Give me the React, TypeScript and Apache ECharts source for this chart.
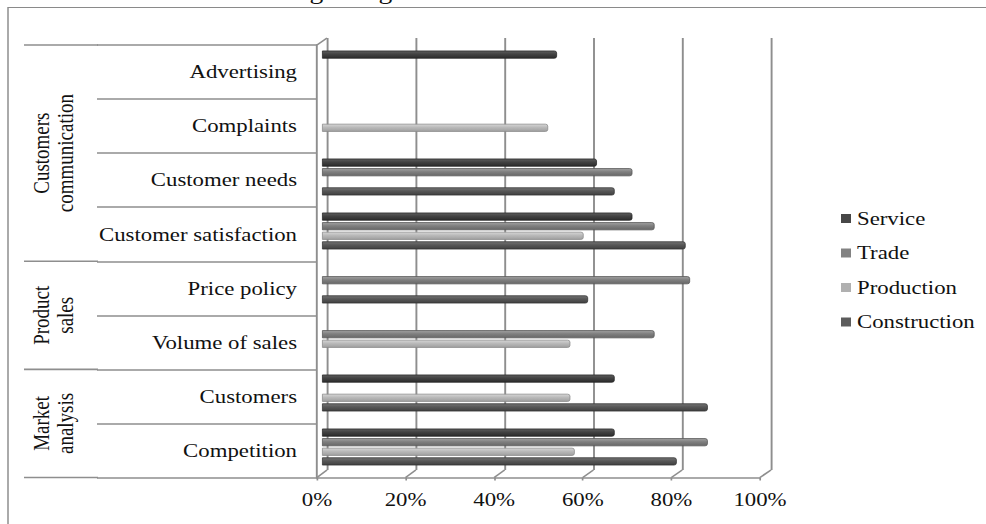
import React, { useEffect, useRef } from "react";
import * as echarts from "echarts";

// ---- data ----
const categories = [
  "Advertising",
  "Complaints",
  "Customer needs",
  "Customer satisfaction",
  "Price policy",
  "Volume of sales",
  "Customers",
  "Competition",
];
const groupLabels = ["Customers\ncommunication", "Product\nsales", "Market\nanalysis"];
const groupSizes = [4, 2, 2];
const seriesNames = ["Service", "Trade", "Production", "Construction"];
const service = [53, null, 62, 70, null, null, 66, 66];
const trade = [null, null, 70, 75, 83, 75, null, 87];
const production = [null, 51, null, 59, null, 56, 56, 57];
const construction = [null, null, 66, 82, 60, null, 87, 80];
const percentTicks = [0, 20, 40, 60, 80, 100];
const headingText = "cases where the trend is stagnating.";

// ---- look ----
const W = 986;
const H = 524;
const SX = 1.2; // horizontal stretch of the whole figure
const ix = (x: number) => x / SX;
const FONT = '"Liberation Serif", "Times New Roman", serif';
const LINE = "#8e8e8e";

const BAR = { left: 322, right: 765.5, top: 42, bottom: 474 };
const WALL = { left: 327, right: 771, top: 38, bottom: 470 };
const FRONT = { left: 317, right: 760, top: 45, bottom: 477.5 };

const shades = [
  ["#5e5e5e", "#424242", "#2c2c2c", "#262626"],
  ["#a2a2a2", "#7f7f7f", "#686868", "#555555"],
  ["#d6d6d6", "#b9b9b9", "#9f9f9f", "#8a8a8a"],
  ["#747474", "#575757", "#404040", "#333333"],
];
const legendColors = ["#474747", "#828282", "#b0b0b0", "#5c5c5c"];

const gridOf = (b: { left: number; right: number; top: number; bottom: number }) => ({
  left: ix(b.left),
  width: ix(b.right - b.left),
  top: b.top,
  height: b.bottom - b.top,
});

export default function App() {
  const ref = useRef<HTMLDivElement>(null);

  useEffect(() => {
    document.body.style.margin = "0";
    const chart = echarts.init(ref.current!, null, { renderer: "svg" });
    const values = [service, trade, production, construction];

    chart.setOption({
      animation: false,
      backgroundColor: "#ffffff",
      textStyle: { fontFamily: FONT },
      grid: [gridOf(BAR), gridOf(WALL), gridOf(FRONT)],
      legend: {
        orient: "vertical",
        left: ix(841),
        top: 209,
        padding: 0,
        itemWidth: ix(10),
        itemHeight: 9,
        itemGap: 15.5,
        icon: "rect",
        textStyle: { fontSize: 19, color: "#111", fontFamily: FONT },
        data: seriesNames.map((n, i) => ({
          name: n,
          itemStyle: { color: legendColors[i], borderWidth: 0 },
        })),
      },
      xAxis: [
        { gridIndex: 0, type: "value", min: 0, max: 100, show: false },
        {
          gridIndex: 1,
          type: "value",
          min: 0,
          max: 100,
          interval: 20,
          axisLine: { show: false },
          axisTick: { show: false },
          axisLabel: { show: false },
          splitLine: { show: true, lineStyle: { color: LINE, width: 1.6 } },
        },
        {
          gridIndex: 2,
          type: "value",
          min: 0,
          max: 100,
          interval: 20,
          axisLine: { show: true, lineStyle: { color: LINE, width: 1.6 } },
          axisTick: { show: true, length: 3, lineStyle: { color: LINE, width: 1.4 } },
          axisLabel: { formatter: "{value}%", fontSize: 19, color: "#111", margin: 13, fontFamily: FONT },
          splitLine: { show: false },
        },
      ],
      yAxis: [
        { gridIndex: 0, type: "category", inverse: true, data: categories, show: false },
        { gridIndex: 1, type: "category", inverse: true, data: categories, show: false },
        {
          gridIndex: 2,
          type: "category",
          inverse: true,
          data: categories,
          axisLine: { show: true, lineStyle: { color: LINE, width: 1.6 } },
          axisTick: { show: true, length: ix(220), interval: 0, lineStyle: { color: LINE, width: 1.6 } },
          axisLabel: { interval: 0, fontSize: 19, color: "#111", margin: ix(20), fontFamily: FONT },
        },
      ],
      series: seriesNames.map((name, i) => ({
        name,
        type: "bar",
        xAxisIndex: 0,
        yAxisIndex: 0,
        barWidth: 8,
        barGap: "20%",
        data: values[i],
        itemStyle: {
          color: new echarts.graphic.LinearGradient(0, 0, 0, 1, [
            { offset: 0, color: shades[i][0] },
            { offset: 0.45, color: shades[i][1] },
            { offset: 1, color: shades[i][2] },
          ]),
          borderColor: shades[i][3],
          borderWidth: 0.7,
          borderRadius: [0, 2, 2, 0],
        },
      })),
    });

    // floor edges, side-wall corner, category groups and frame
    const elements: any[] = [];
    const stroke = { stroke: LINE, lineWidth: 1.6 };
    percentTicks.forEach((v) => {
      const fx = chart.convertToPixel({ xAxisIndex: 2 }, v) as number;
      const bx = chart.convertToPixel({ xAxisIndex: 1 }, v) as number;
      elements.push({ type: "line", shape: { x1: fx, y1: FRONT.bottom, x2: bx, y2: WALL.bottom }, style: stroke });
    });
    {
      const fx = chart.convertToPixel({ xAxisIndex: 2 }, 0) as number;
      const bx = chart.convertToPixel({ xAxisIndex: 1 }, 0) as number;
      elements.push({ type: "line", shape: { x1: fx, y1: FRONT.top, x2: bx, y2: WALL.top }, style: stroke });
    }

    const c0 = chart.convertToPixel({ yAxisIndex: 2 }, categories[0]) as number;
    const c1 = chart.convertToPixel({ yAxisIndex: 2 }, categories[1]) as number;
    const band = c1 - c0;
    let start = 0;
    groupSizes.forEach((n, gi) => {
      const yTop = (chart.convertToPixel({ yAxisIndex: 2 }, categories[start]) as number) - band / 2;
      const yBot = (chart.convertToPixel({ yAxisIndex: 2 }, categories[start + n - 1]) as number) + band / 2;
      if (gi === 0) {
        elements.push({ type: "line", shape: { x1: ix(24), y1: yTop, x2: ix(98), y2: yTop }, style: stroke });
      }
      elements.push({ type: "line", shape: { x1: ix(24), y1: yBot, x2: ix(98), y2: yBot }, style: stroke });
      elements.push({
        type: "text",
        x: ix(53),
        y: (yTop + yBot) / 2,
        rotation: Math.PI / 2,
        style: {
          text: groupLabels[gi],
          fontSize: 19,
          lineHeight: 20,
          fontFamily: FONT,
          fill: "#111",
          align: "center",
          verticalAlign: "middle",
        },
      });
      start += n;
    });

    elements.push({
      type: "polyline",
      shape: { points: [[ix(8), H], [ix(8), 7.5], [W / SX, 7.5]] },
      style: { stroke: "#8a8a8a", lineWidth: 1.2, fill: "none" },
    });
    elements.push({
      type: "text",
      x: ix(10),
      y: -9,
      style: { text: headingText, fontSize: 23, fontFamily: FONT, fill: "#111", verticalAlign: "middle" },
    });

    chart.setOption({ graphic: { elements } });

    return () => chart.dispose();
  }, []);

  return (
    <div style={{ width: W, height: H, overflow: "hidden", position: "relative", background: "#fff" }}>
      <div
        ref={ref}
        style={{ width: W / SX, height: H, transform: `scaleX(${SX})`, transformOrigin: "0 0" }}
      />
    </div>
  );
}
